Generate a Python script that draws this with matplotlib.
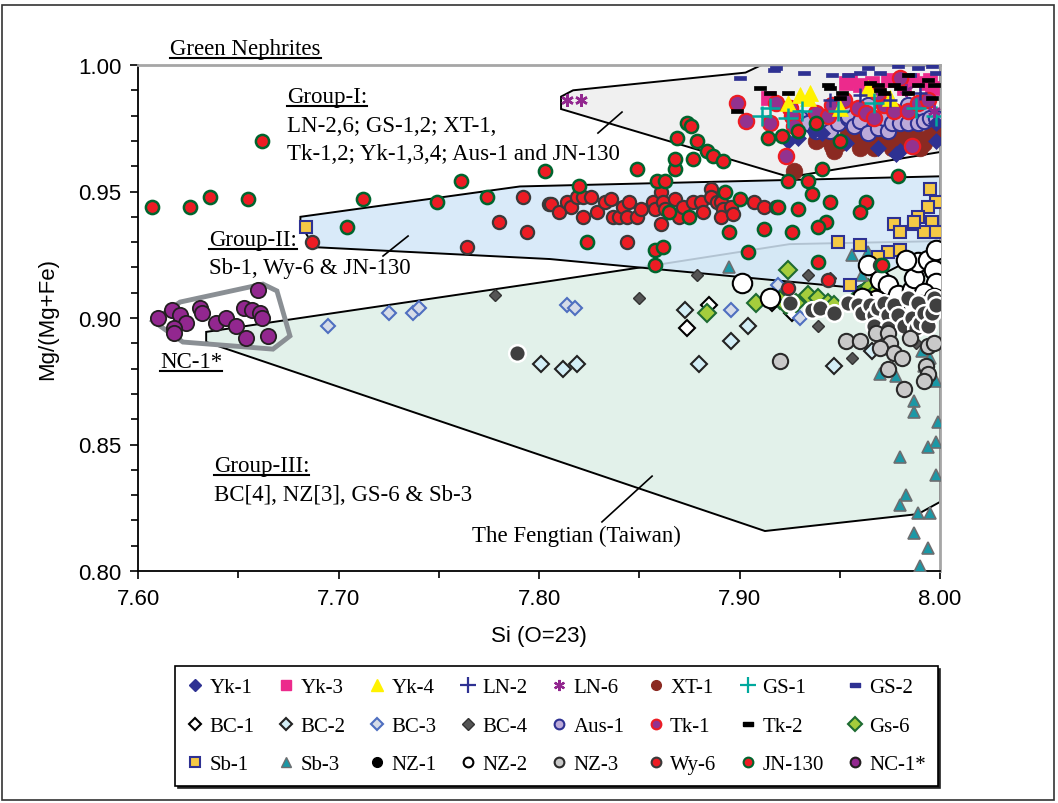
import numpy as np
import matplotlib
matplotlib.use('Agg')
import matplotlib.pyplot as plt
from matplotlib.lines import Line2D
from matplotlib.patches import Polygon, Rectangle
from matplotlib.ticker import MultipleLocator, FormatStrFormatter

### sample data: Si (O=23) and Mg/(Mg+Fe)
yk1_si = [7.924, 7.929, 7.937, 7.941, 7.969, 7.978, 7.980, 7.998, 7.998, 7.953]
yk1_mg = [0.970, 0.971, 0.974, 0.973, 0.967, 0.965, 0.966, 0.970, 0.977, 0.969]

yk3_si = [7.914, 7.953, 7.955, 7.960, 7.966, 7.974, 7.980, 7.982, 7.986, 7.993, 7.995, 7.996]
yk3_mg = [0.987, 0.993, 0.994, 0.992, 0.993, 0.994, 0.994, 0.991, 0.994, 0.993, 0.994, 0.991]

yk4_si = [7.924, 7.930, 7.935, 7.934, 7.950, 7.964, 7.975]
yk4_mg = [0.985, 0.988, 0.989, 0.987, 0.983, 0.991, 0.987]

ln2_si = [7.945, 7.960, 7.990, 7.975]
ln2_mg = [0.986, 0.988, 0.989, 0.986]

ln6_si = [7.814, 7.821, 7.983, 7.997]
ln6_mg = [0.986, 0.986, 0.990, 0.982]

xt1_si = [7.938, 7.942, 7.946, 7.950, 7.954, 7.959, 7.964, 7.967, 7.969, 7.974, 7.978,
          7.980, 7.984, 7.989, 7.992, 7.995, 7.998, 7.990, 7.960, 7.947, 7.976, 7.927]
xt1_mg = [0.970, 0.971, 0.968, 0.969, 0.973, 0.971, 0.969, 0.967, 0.971, 0.970, 0.971,
          0.969, 0.972, 0.971, 0.969, 0.972, 0.973, 0.967, 0.967, 0.966, 0.967, 0.958]

gs1_si = [7.911, 7.915, 7.924, 7.931, 7.949, 7.967, 7.988, 7.998]
gs1_mg = [0.980, 0.983, 0.979, 0.982, 0.982, 0.985, 0.983, 0.980]

gs2_si = [7.900, 7.917, 7.918, 7.932, 7.946, 7.954, 7.960, 7.964, 7.970, 7.979, 7.985, 7.989, 7.996, 7.998]
gs2_mg = [0.995, 0.998, 0.999, 0.997, 0.996, 0.996, 0.997, 0.999, 0.997, 0.9995, 0.996, 0.999, 0.9995, 0.997]

bc1_si = [7.874, 7.926, 7.916, 7.969, 7.885]
bc1_mg = [0.896, 0.902, 0.906, 0.906, 0.905]

bc2_si = [7.801, 7.812, 7.819, 7.880, 7.896, 7.904, 7.873, 7.947, 7.966]
bc2_mg = [0.882, 0.880, 0.882, 0.882, 0.891, 0.897, 0.903, 0.881, 0.887]

bc3_si = [7.695, 7.725, 7.737, 7.740, 7.814, 7.818, 7.896, 7.919, 7.930]
bc3_mg = [0.897, 0.902, 0.902, 0.904, 0.905, 0.904, 0.903, 0.913, 0.900]

bc4_si = [7.778, 7.850, 7.879, 7.939, 7.956, 7.988, 7.934, 7.945]
bc4_mg = [0.909, 0.908, 0.917, 0.897, 0.884, 0.890, 0.917, 0.916]

aus1_si = [7.930, 7.934, 7.938, 7.942, 7.945, 7.949, 7.954, 7.954, 7.957, 7.960, 7.964, 7.952, 7.964,
           7.969, 7.972, 7.974, 7.976, 7.980, 7.984, 7.984, 7.989, 7.991, 7.992, 7.995, 7.998]
aus1_mg = [0.979, 0.977, 0.974, 0.975, 0.974, 0.977, 0.979, 0.980, 0.976, 0.978, 0.984, 0.984, 0.973,
           0.975, 0.979, 0.974, 0.977, 0.977, 0.984, 0.977, 0.977, 0.983, 0.978, 0.979, 0.979]

tk1_si = [7.899, 7.903, 7.918, 7.925, 7.926, 7.915, 7.927, 7.938, 7.944, 7.946, 7.952, 7.959,
          7.963, 7.967, 7.972, 7.977, 7.984, 7.989, 7.994, 7.980, 7.969, 7.986, 7.923]
tk1_mg = [0.985, 0.978, 0.985, 0.983, 0.980, 0.977, 0.976, 0.981, 0.980, 0.984, 0.986, 0.983,
          0.981, 0.979, 0.984, 0.982, 0.982, 0.985, 0.986, 0.995, 0.989, 0.968, 0.964]

tk2_si = [7.899, 7.910, 7.915, 7.924, 7.944, 7.945, 7.951, 7.950, 7.965, 7.969,
          7.970, 7.977, 7.980, 7.984, 7.989, 7.994, 7.997, 7.984, 7.996, 7.972]
tk2_mg = [0.982, 0.991, 0.989, 0.989, 0.992, 0.991, 0.989, 0.987, 0.993, 0.992,
          0.990, 0.992, 0.991, 0.996, 0.992, 0.994, 0.992, 0.989, 0.987, 0.989]

gs6_si = [7.884, 7.908, 7.924, 7.920, 7.923, 7.928, 7.934, 7.939, 7.944, 7.947, 7.964, 7.969, 7.960]
gs6_mg = [0.902, 0.906, 0.919, 0.907, 0.905, 0.906, 0.909, 0.908, 0.906, 0.905, 0.912, 0.911, 0.909]

sb1_si = [7.684, 7.995, 7.998, 7.994, 7.989, 7.996, 7.987, 7.977, 7.980, 7.992,
          7.949, 7.960, 7.974, 7.980, 7.955, 7.987, 7.998, 7.969]
sb1_mg = [0.936, 0.951, 0.946, 0.944, 0.940, 0.938, 0.937, 0.937, 0.934, 0.934,
          0.930, 0.929, 0.926, 0.927, 0.913, 0.938, 0.934, 0.924]

sb3_si = [7.895, 7.956, 7.964, 7.961, 7.981, 7.970, 7.978, 7.987, 7.987, 7.991, 7.995, 7.992, 7.998,
          7.999, 7.998, 7.994, 7.980, 7.998, 7.983, 7.980, 7.989, 7.995, 7.987, 7.994, 7.990]
sb3_mg = [0.920, 0.925, 0.926, 0.917, 0.927, 0.878, 0.877, 0.867, 0.863, 0.887, 0.884, 0.881, 0.875,
          0.859, 0.851, 0.849, 0.845, 0.838, 0.830, 0.826, 0.823, 0.823, 0.815, 0.809, 0.802]

nz1_si = [7.925, 7.936, 7.940, 7.947, 7.954, 7.959, 7.961, 7.965, 7.967, 7.967, 7.969, 7.972, 7.974, 7.974,
          7.977, 7.979, 7.982, 7.984, 7.986, 7.988, 7.989, 7.990, 7.992, 7.994, 7.996, 7.997, 7.789, 7.998]
nz1_mg = [0.906, 0.903, 0.904, 0.902, 0.906, 0.905, 0.902, 0.905, 0.901, 0.897, 0.904, 0.906, 0.901, 0.896,
          0.905, 0.901, 0.897, 0.908, 0.900, 0.896, 0.906, 0.898, 0.902, 0.897, 0.902, 0.908, 0.886, 0.905]

nz2_si = [7.901, 7.915, 7.964, 7.970, 7.974, 7.979, 7.986, 7.987, 7.989, 7.994, 7.997,
          7.998, 7.992, 7.997, 7.990, 7.984, 7.977, 7.983, 7.998, 7.968, 7.961]
nz2_mg = [0.914, 0.908, 0.921, 0.915, 0.913, 0.909, 0.911, 0.916, 0.922, 0.923, 0.919,
          0.914, 0.910, 0.908, 0.905, 0.905, 0.904, 0.923, 0.927, 0.907, 0.908]

nz3_si = [7.920, 7.953, 7.960, 7.968, 7.974, 7.975, 7.970, 7.977, 7.981, 7.974, 7.982,
          7.994, 7.993, 7.994, 7.992, 7.997, 7.985]
nz3_mg = [0.883, 0.891, 0.891, 0.894, 0.894, 0.890, 0.888, 0.886, 0.884, 0.880, 0.872,
          0.889, 0.881, 0.878, 0.875, 0.890, 0.892]

wy6_si = [7.687, 7.764, 7.780, 7.792, 7.794, 7.805, 7.806, 7.810, 7.814, 7.816, 7.819, 7.822, 7.826,
          7.822, 7.829, 7.833, 7.836, 7.837, 7.840, 7.842, 7.845, 7.844, 7.849, 7.851, 7.844, 7.857,
          7.858, 7.861, 7.862, 7.863, 7.868, 7.870, 7.872, 7.861, 7.877, 7.881, 7.882, 7.886, 7.886,
          7.889, 7.891, 7.892, 7.891, 7.896, 7.897, 7.907, 7.912, 7.918, 7.924, 7.944, 7.970]
wy6_mg = [0.930, 0.928, 0.938, 0.948, 0.934, 0.945, 0.945, 0.942, 0.946, 0.944, 0.948, 0.948, 0.948,
          0.940, 0.942, 0.946, 0.947, 0.940, 0.940, 0.944, 0.946, 0.940, 0.940, 0.943, 0.930, 0.946,
          0.943, 0.950, 0.946, 0.943, 0.947, 0.940, 0.944, 0.937, 0.946, 0.946, 0.942, 0.951, 0.948,
          0.946, 0.946, 0.943, 0.940, 0.944, 0.941, 0.946, 0.944, 0.944, 0.912, 0.915, 0.921]

jn130_si = [7.607, 7.626, 7.636, 7.655, 7.662, 7.712, 7.749, 7.761, 7.774, 7.704, 7.803, 7.820,
            7.849, 7.859, 7.863, 7.868, 7.868, 7.869, 7.874, 7.876, 7.877, 7.879, 7.884, 7.887,
            7.892, 7.914, 7.921, 7.929, 7.938, 7.950, 7.924, 7.934, 7.941, 7.979, 7.893, 7.900,
            7.919, 7.929, 7.936, 7.945, 7.963, 7.960, 7.943, 7.939, 7.912, 7.926, 7.895, 7.865,
            7.875, 7.824, 7.858, 7.862, 7.904, 7.858, 7.939, 7.971]
jn130_mg = [0.944, 0.944, 0.948, 0.947, 0.970, 0.947, 0.946, 0.954, 0.948, 0.936, 0.958, 0.952,
            0.959, 0.954, 0.954, 0.959, 0.963, 0.971, 0.977, 0.976, 0.963, 0.970, 0.966, 0.964,
            0.962, 0.971, 0.972, 0.974, 0.977, 0.970, 0.954, 0.954, 0.959, 0.956, 0.950, 0.947,
            0.944, 0.943, 0.949, 0.946, 0.946, 0.942, 0.938, 0.936, 0.935, 0.934, 0.934, 0.942,
            0.940, 0.930, 0.927, 0.928, 0.926, 0.921, 0.922, 0.921]

nc1_si = [7.610, 7.617, 7.621, 7.624, 7.618, 7.618, 7.631, 7.632, 7.639, 7.644, 7.649,
          7.653, 7.657, 7.661, 7.662, 7.660, 7.654, 7.665]
nc1_mg = [0.900, 0.903, 0.901, 0.898, 0.896, 0.894, 0.904, 0.902, 0.898, 0.900, 0.897,
          0.904, 0.903, 0.902, 0.900, 0.911, 0.892, 0.893]

### group outlines
group1_si = [7.811, 7.811, 7.817, 7.903, 7.911, 8.000, 8.000, 7.925]
group1_mg = [0.9826, 0.9875, 0.990, 0.997, 1.000, 1.000, 0.9656, 0.9557]

group2_si = [7.681, 7.7905, 8.000, 8.000, 7.958, 7.8055, 7.688, 7.681]
group2_mg = [0.940, 0.952, 0.956, 0.9289, 0.9119, 0.9233, 0.928, 0.937]

group3_si = [7.634, 7.8055, 7.849, 7.925, 8.000, 8.000, 7.989, 7.9127, 7.634]
group3_mg = [0.8945, 0.9146, 0.9198, 0.9292, 0.9304, 0.8273, 0.8225, 0.8158, 0.8905]

nc1_out_si = [7.6075, 7.621, 7.6623, 7.6693, 7.6758, 7.6673, 7.6224]
nc1_out_mg = [0.8988, 0.9063, 0.9134, 0.9107, 0.8929, 0.8877, 0.8905]

serif = ['Liberation Serif', 'DejaVu Serif']
sans = ['Liberation Sans', 'DejaVu Sans']
plt.rcParams['font.family'] = sans

fig = plt.figure(figsize=(10.58, 8.04), dpi=100)
ax = fig.add_axes([138 / 1058, 1 - 572 / 804, 802 / 1058, 506 / 804])

# outer frame round the whole figure
fig.patches.append(Rectangle((0.002, 0.004), 0.994, 0.988, transform=fig.transFigure,
                             fill=False, edgecolor='#333333', lw=1.2, zorder=0))

### shaded groups
ax.add_patch(Polygon(np.column_stack([group3_si, group3_mg]), closed=True,
                     facecolor='#e2f1ea', edgecolor='black', lw=1.4, zorder=1))
ax.add_patch(Polygon(np.column_stack([group2_si, group2_mg]), closed=True,
                     facecolor='#d3e7f8', edgecolor='none', alpha=0.85, zorder=1))
ax.add_patch(Polygon(np.column_stack([group2_si, group2_mg]), closed=True,
                     facecolor='none', edgecolor='black', lw=1.4, zorder=1.1))
ax.add_patch(Polygon(np.column_stack([group1_si, group1_mg]), closed=True,
                     facecolor='#f0f0f0', edgecolor='black', lw=1.4, zorder=1))
ax.add_patch(Polygon(np.column_stack([nc1_out_si, nc1_out_mg]), closed=True,
                     facecolor='none', edgecolor='#8a8f94', lw=3.5, zorder=4))

dash = [(-1, -0.35), (1, -0.35), (1, 0.35), (-1, 0.35), (-1, -0.35)]

# name, x, y, marker, size, face, edge, edge width (plot style)
series = [
    ('XT-1', xt1_si, xt1_mg, 'o', 12, '#8b2a22', '#8b2a22', 0.5),
    ('Aus-1', aus1_si, aus1_mg, 'o', 11, '#bcaad9', '#2e3192', 1.5),
    ('Yk-1', yk1_si, yk1_mg, 'D', 8, '#2e3192', '#2e3192', 0.5),
    ('Yk-3', yk3_si, yk3_mg, 's', 10, '#ec2a8c', '#ec2a8c', 0.5),
    ('GS-2', gs2_si, gs2_mg, dash, 9, '#2e3192', '#2e3192', 0.5),
    ('Tk-1', tk1_si, tk1_mg, 'o', 11, '#93328f', '#ed1c24', 1.6),
    ('Yk-4', yk4_si, yk4_mg, '^', 12, '#fff200', '#fff200', 0.5),
    ('GS-1', gs1_si, gs1_mg, '+', 15, '#00a99d', '#00a99d', 1.8),
    ('LN-2', ln2_si, ln2_mg, '+', 10, '#2e3192', '#2e3192', 1.8),
    ('LN-6', ln6_si, ln6_mg, (6, 2, 0), 9, '#92278f', '#92278f', 1.8),
    ('Tk-2', tk2_si, tk2_mg, dash, 9, 'black', 'black', 0.5),
    ('BC-1', bc1_si, bc1_mg, 'D', 8, 'white', 'black', 1.5),
    ('BC-2', bc2_si, bc2_mg, 'D', 8, '#d3eef6', '#222222', 1.5),
    ('BC-3', bc3_si, bc3_mg, 'D', 7, '#d6dce8', '#4f6fc0', 1.5),
    ('BC-4', bc4_si, bc4_mg, 'D', 6, '#555555', '#333333', 1.0),
    ('Gs-6', gs6_si, gs6_mg, 'D', 9, '#a5cd3c', '#1e6b32', 1.5),
    ('Sb-3', sb3_si, sb3_mg, '^', 9, '#1b98a6', '#6d6e70', 1.2),
    ('Sb-1', sb1_si, sb1_mg, 's', 9, '#f5c945', '#2e3192', 1.5),
    ('NZ-2', nz2_si, nz2_mg, 'o', 14, 'white', 'black', 1.5),
    ('NZ-1', nz1_si, nz1_mg, 'o', 12, '#404040', 'white', 1.8),
    ('NZ-3', nz3_si, nz3_mg, 'o', 11, '#c9c9c9', '#2a2a2a', 1.5),
    ('Wy-6', wy6_si, wy6_mg, 'o', 9.5, '#ed1c24', '#3a3a3a', 1.6),
    ('JN-130', jn130_si, jn130_mg, 'o', 9.5, '#ed1c24', '#00652e', 1.8),
    ('NC-1*', nc1_si, nc1_mg, 'o', 11, '#92278f', '#231f20', 1.3),
]
for z, (name, xs, ys, mk, ms, fc, ec, mew) in enumerate(series):
    ax.plot(xs, ys, ls='none', marker=mk, ms=ms, mfc=fc, mec=ec, mew=mew, zorder=5 + 0.1 * z)

### axes
ax.set_xlim(7.60, 8.00)
ax.set_ylim(0.80, 1.00)
ax.xaxis.set_major_locator(MultipleLocator(0.10))
ax.xaxis.set_minor_locator(MultipleLocator(0.05))
ax.yaxis.set_major_locator(MultipleLocator(0.05))
ax.yaxis.set_minor_locator(MultipleLocator(0.01))
ax.xaxis.set_major_formatter(FormatStrFormatter('%.2f'))
ax.yaxis.set_major_formatter(FormatStrFormatter('%.2f'))
ax.tick_params(which='both', direction='out', labelsize=16, width=1.2)
ax.tick_params(which='major', length=6, pad=6)
ax.tick_params(which='minor', length=5)
for s in ['left', 'bottom']:
    ax.spines[s].set_linewidth(1.3)
for s in ['top', 'right']:
    ax.spines[s].set_color('#a6a6a6')
    ax.spines[s].set_linewidth(2)
ax.set_xlabel('Si (O=23)', fontsize=16, labelpad=12)
ax.set_ylabel('Mg/(Mg+Fe)', fontsize=16, labelpad=14)

### leader lines
ax.plot([7.8294, 7.8414], [0.9731, 0.9814], color='black', lw=1.2, zorder=6)
ax.plot([7.7222, 7.7347], [0.9245, 0.9324], color='black', lw=1.2, zorder=6)
ax.plot([7.8314, 7.8564], [0.8194, 0.8375], color='black', lw=1.2, zorder=6)

### group notes (underlined headers)
notes = [
    ('Green Nephrites', 7.616, 1.0045, True),
    ('Group-I:', 7.6743, 0.9854, True),
    ('LN-2,6; GS-1,2; XT-1,', 7.6743, 0.9740, False),
    ('Tk-1,2; Yk-1,3,4; Aus-1 and JN-130', 7.6743, 0.9630, False),
    ('Group-II:', 7.6354, 0.9288, True),
    ('Sb-1, Wy-6 & JN-130', 7.6354, 0.9177, False),
    ('NC-1*', 7.611, 0.8805, True),
    ('Group-III:', 7.6379, 0.8395, True),
    ('BC[4], NZ[3], GS-6 & Sb-3', 7.6379, 0.8280, False),
    ('The Fengtian (Taiwan)', 7.7666, 0.8120, False),
]
txts = []
for s, x, y, ul in notes:
    t = ax.text(x, y, s, family=serif, fontsize=16.5, ha='left', va='baseline', zorder=10)
    txts.append((t, x, y, ul))

fig.canvas.draw()
inv = fig.transFigure.inverted()
for t, x, y, ul in txts:
    if not ul:
        continue
    bb = t.get_window_extent()
    base = ax.transData.transform((x, y))[1] - 4
    (x0, yb), (x1, _) = inv.transform([(bb.x0, base), (bb.x1, base)])
    fig.add_artist(Line2D([x0, x1], [yb, yb], transform=fig.transFigure, color='black', lw=1.5))

### legend, filled row by row
leg_items = [
    ('Yk-1', dict(marker='D', ms=6, mfc='#2e3192', mec='#2e3192')),
    ('Yk-3', dict(marker='s', ms=7, mfc='#ec2a8c', mec='#ec2a8c')),
    ('Yk-4', dict(marker='^', ms=8, mfc='#fff200', mec='#fff200')),
    ('LN-2', dict(marker='+', ms=11, mec='#2e3192', mew=1.6)),
    ('LN-6', dict(marker=(6, 2, 0), ms=8, mec='#92278f', mew=1.6)),
    ('XT-1', dict(marker='o', ms=7, mfc='#8b2a22', mec='#8b2a22')),
    ('GS-1', dict(marker='+', ms=11, mec='#00a99d', mew=1.6)),
    ('GS-2', dict(marker=dash, ms=7, mfc='#2e3192', mec='#2e3192')),
    ('BC-1', dict(marker='D', ms=6, mfc='white', mec='black', mew=1.5)),
    ('BC-2', dict(marker='D', ms=6, mfc='#d3eef6', mec='#222222', mew=1.5)),
    ('BC-3', dict(marker='D', ms=6, mfc='#d6dce8', mec='#4f6fc0', mew=1.5)),
    ('BC-4', dict(marker='D', ms=6, mfc='#555555', mec='#333333', mew=1)),
    ('Aus-1', dict(marker='o', ms=7, mfc='#bcaad9', mec='#2e3192', mew=1.5)),
    ('Tk-1', dict(marker='o', ms=7, mfc='#93328f', mec='#ed1c24', mew=1.5)),
    ('Tk-2', dict(marker=dash, ms=7, mfc='black', mec='black')),
    ('Gs-6', dict(marker='D', ms=7, mfc='#a5cd3c', mec='#1e6b32', mew=1.5)),
    ('Sb-1', dict(marker='s', ms=7, mfc='#f5c945', mec='#2e3192', mew=1.5)),
    ('Sb-3', dict(marker='^', ms=7, mfc='#1b98a6', mec='#6d6e70', mew=1)),
    ('NZ-1', dict(marker='o', ms=7, mfc='black', mec='black')),
    ('NZ-2', dict(marker='o', ms=7, mfc='white', mec='black', mew=1.5)),
    ('NZ-3', dict(marker='o', ms=7, mfc='#c9c9c9', mec='#2a2a2a', mew=1.5)),
    ('Wy-6', dict(marker='o', ms=7, mfc='#ed1c24', mec='#3a3a3a', mew=1.5)),
    ('JN-130', dict(marker='o', ms=7, mfc='#ed1c24', mec='#00652e', mew=1.5)),
    ('NC-1*', dict(marker='o', ms=7, mfc='#92278f', mec='#231f20', mew=1.5)),
]
ncol, nrow = 8, 3
order = [r * ncol + c for c in range(ncol) for r in range(nrow)]
handles = [Line2D([], [], ls='none', **leg_items[i][1]) for i in order]
labels = [leg_items[i][0] for i in order]
leg = fig.legend(handles, labels, loc='center', ncol=ncol, mode='expand',
                 bbox_to_anchor=(165 / 1058, 1 - 784 / 804, 783 / 1058, 114 / 804),
                 prop={'family': serif, 'size': 15}, frameon=True, fancybox=False,
                 shadow={'color': '#222222', 'alpha': 1}, edgecolor='black',
                 handlelength=0.8, handletextpad=0.3, labelspacing=0.9,
                 borderpad=0.55, columnspacing=0.4)
leg.get_frame().set_linewidth(1.2)

fig.savefig('out.png', dpi=100)
